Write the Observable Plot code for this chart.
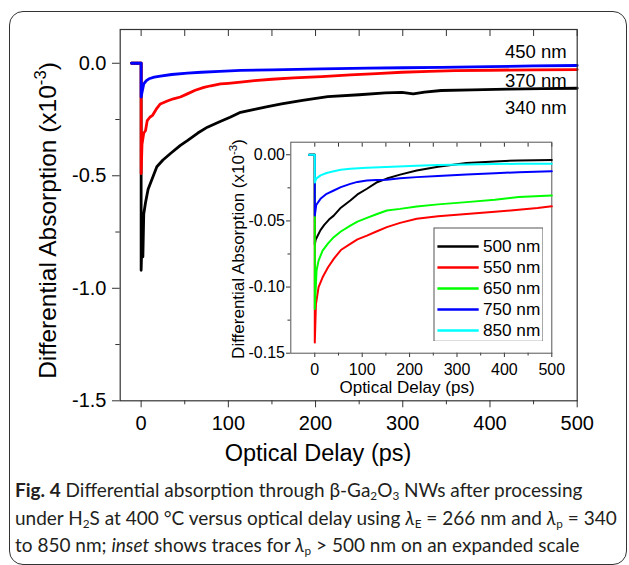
<!DOCTYPE html>
<html><head><meta charset="utf-8">
<script src="https://cdn.jsdelivr.net/npm/d3@7"></script>
<script src="https://cdn.jsdelivr.net/npm/@observablehq/plot@0.6"></script>
<style>
body{margin:0;background:#fff;}
#fig{position:relative;width:629px;height:565px;overflow:hidden;background:#fff;}
#border{position:absolute;left:8.5px;top:11px;width:618.5px;height:554px;border:1.5px solid #333;border-radius:14px;box-sizing:border-box;}
.abs{position:absolute;}
#caption{position:absolute;left:15px;top:476px;font-family:Lato,"Open Sans",sans-serif;font-size:19px;line-height:27.5px;color:#231f20;white-space:nowrap;}
#caption sub{font-size:0.62em;vertical-align:-0.25em;line-height:0;}
</style></head>
<body>
<div id="fig">
<div id="border"></div>
<div id="main" class="abs" style="left:0;top:0"></div>
<div id="inset" class="abs" style="left:190px;top:125px"></div>
<div id="legend" class="abs" style="left:433.3px;top:226.7px"></div>
<div id="caption">
<div><b>Fig. 4</b> Differential absorption through β-Ga<sub>2</sub>O<sub>3</sub> NWs after processing</div>
<div>under H<sub>2</sub>S at 400 °C versus optical delay using <i>λ</i><sub>E</sub> = 266 nm and <i>λ</i><sub>p</sub> = 340</div>
<div>to 850 nm; <i>inset</i> shows traces for <i>λ</i><sub>p</sub> &gt; 500 nm on an expanded scale</div>
</div>
</div>
<script>
// ---- main chart data ----
const t340 = [-11, 0, 0, 1, 2, 3, 5, 8, 11, 18, 25, 34, 45, 53, 65, 76, 90, 102, 114, 130, 145, 161, 185, 214, 250, 280, 299, 312, 325, 344, 380, 420, 460, 500];
const v340 = [0, 0, -0.92, -0.78, -0.86, -0.67, -0.62, -0.56, -0.53, -0.46, -0.43, -0.40, -0.365, -0.344, -0.31, -0.284, -0.26, -0.24, -0.218, -0.205, -0.193, -0.181, -0.165, -0.148, -0.14, -0.132, -0.129, -0.136, -0.128, -0.121, -0.118, -0.115, -0.113, -0.111];
const t370 = [-11, 0, 0, 1, 3, 5, 7, 10, 13, 18, 22, 30, 37, 45, 53, 62, 72, 80, 91, 100, 114, 130, 150, 175, 207, 240, 270, 299, 330, 360, 400, 450, 500];
const v370 = [0, 0, -0.49, -0.36, -0.31, -0.30, -0.255, -0.24, -0.232, -0.2, -0.181, -0.168, -0.158, -0.15, -0.136, -0.12, -0.107, -0.1, -0.092, -0.089, -0.084, -0.077, -0.071, -0.065, -0.059, -0.052, -0.046, -0.04, -0.036, -0.033, -0.031, -0.029, -0.028];
const t450 = [-11, 0, 0, 1, 3, 6, 9, 15, 22, 35, 53, 69, 90, 114, 150, 207, 260, 300, 344, 400, 450, 500];
const v450 = [0, 0, -0.15, -0.13, -0.092, -0.077, -0.069, -0.062, -0.057, -0.05, -0.044, -0.04, -0.036, -0.032, -0.029, -0.025, -0.022, -0.02, -0.018, -0.015, -0.012, -0.01];
const mainNames = ["340 nm", "370 nm", "450 nm"];
const mainColors = ["#000000", "#ff0000", "#0000ff"];
const mainXTicks = [0, 100, 200, 300, 400, 500];
const mainXMinor = [50, 150, 250, 350, 450];
const mainYTicks = [0, -0.5, -1.0, -1.5];
const mainYMinor = [-0.25, -0.75, -1.25];

// ---- inset data ----
const t500 = [-12, 0, 0, 2, 5, 12, 20, 30, 40, 55, 75, 90, 110, 130, 152, 180, 215, 260, 320, 380, 430, 500];
const v500 = [0, 0, -0.068, -0.064, -0.062, -0.057, -0.053, -0.049, -0.046, -0.040, -0.0346, -0.030, -0.0257, -0.021, -0.018, -0.015, -0.0119, -0.009, -0.0063, -0.005, -0.0043, -0.004];
const t550 = [-12, 0, 0, 2.4, 8, 16.5, 28, 40, 55, 75, 90, 110, 130, 152, 180, 215, 260, 320, 380, 430, 470, 500];
const v550 = [0, 0, -0.142, -0.113, -0.1, -0.0926, -0.085, -0.0787, -0.072, -0.0674, -0.064, -0.0611, -0.058, -0.0547, -0.0515, -0.0484, -0.0465, -0.0447, -0.043, -0.0416, -0.0403, -0.039];
const t650 = [-12, 0, 0, 3.7, 8, 16.5, 28, 40, 55, 75, 90, 110, 130, 152, 180, 215, 260, 320, 380, 430, 500];
const v650 = [0, 0, -0.1165, -0.0875, -0.08, -0.0724, -0.067, -0.0623, -0.058, -0.0535, -0.0505, -0.0477, -0.045, -0.0421, -0.0409, -0.0391, -0.0375, -0.0358, -0.034, -0.032, -0.0308];
const t750 = [-12, 0, 0, 3, 12, 25, 40, 55, 75, 90, 110, 130, 152, 180, 215, 260, 320, 380, 430, 500];
const v750 = [0, 0, -0.046, -0.038, -0.0333, -0.0295, -0.027, -0.0245, -0.022, -0.0205, -0.0194, -0.019, -0.0189, -0.0178, -0.0169, -0.016, -0.0149, -0.014, -0.0132, -0.0124];
const t850 = [-12, 0, 0, 3, 12, 25, 40, 55, 75, 110, 150, 215, 260, 320, 380, 430, 500];
const v850 = [0, 0, -0.021, -0.018, -0.0156, -0.0138, -0.0124, -0.0114, -0.0106, -0.0099, -0.0092, -0.0083, -0.0078, -0.0073, -0.007, -0.0068, -0.0068];
const insetNames = ["500 nm", "550 nm", "650 nm", "750 nm", "850 nm"];
const insetColors = ["#000000", "#ff0000", "#00ff00", "#0000ff", "#00ffff"];
const insetXTicks = [0, 100, 200, 300, 400, 500];
const insetXMinor = [50, 150, 250, 350, 450];
const insetYTicks = [0, -0.05, -0.10, -0.15];
const insetYMinor = [-0.025, -0.075, -0.125];

const FONT = "'Liberation Sans', Arial, sans-serif";
const zip = (ts, vs) => ts.map((t, i) => ({t, v: vs[i]}));

const mainSeries = [zip(t340, v340), zip(t370, v370), zip(t450, v450)];
const insetSeries = [zip(t500, v500), zip(t550, v550), zip(t650, v650), zip(t750, v750), zip(t850, v850)];

// label placement for main-chart line annotations (data space)
const mainLabelPos = [{x: 488, y: -0.201}, {x: 488, y: -0.077}, {x: 488, y: 0.049}];
const mainLabels = mainNames.map((n, i) => ({name: n, ...mainLabelPos[i]}));

const main = Plot.plot({
  width: 629, height: 470,
  marginLeft: 119.7, marginRight: 52.3, marginTop: 29, marginBottom: 69.7,
  x: {domain: [-24, 500]},
  y: {domain: [-1.5, 0.15]},
  style: {fontFamily: FONT, background: "transparent", color: "#000", overflow: "visible"},
  marks: [
    Plot.axisX({ticks: mainXTicks, tickSize: 7, tickPadding: 7.7, fontSize: 20, label: null, tickFormat: d => String(d), stroke: "#333"}),
    Plot.axisX({ticks: mainXMinor, tickSize: 4, tickFormat: () => "", label: null, stroke: "#333"}),
    Plot.axisX({anchor: "top", ticks: mainXTicks.concat(mainXMinor), tickSize: 6, dy: 6, tickFormat: () => "", label: null, stroke: "#333"}),
    Plot.axisY({ticks: mainYTicks, tickSize: 7.7, tickPadding: 6, fontSize: 20, tickFormat: d => d.toFixed(1), label: null, stroke: "#333"}),
    Plot.axisY({ticks: mainYMinor, tickSize: 4.4, tickFormat: () => "", label: null, stroke: "#333"}),
    ...mainSeries.map((s, i) => Plot.line(s, {x: "t", y: "v", stroke: mainColors[i], strokeWidth: 2.8})),
    Plot.frame({stroke: "#333", strokeWidth: 1.2}),
    Plot.text(mainLabels, {x: "x", y: "y", text: "name", textAnchor: "end", fontSize: 18.5, fill: "#000"})
  ]
});
document.getElementById("main").appendChild(main);

const inset = Plot.plot({
  width: 380, height: 280,
  marginLeft: 100.3, marginRight: 18.7, marginTop: 16.7, marginBottom: 52.3,
  x: {domain: [-50.6, 500]},
  y: {domain: [-0.15, 0.0095]},
  style: {fontFamily: FONT, background: "transparent", color: "#000", overflow: "visible"},
  marks: [
    Plot.frame({fill: "white", stroke: "none"}),
    Plot.axisX({ticks: insetXTicks, tickSize: 4.3, tickPadding: 6.3, fontSize: 16, label: null, tickFormat: d => String(d), stroke: "#333"}),
    Plot.axisX({ticks: insetXMinor, tickSize: 2.8, tickFormat: () => "", label: null, stroke: "#333"}),
    Plot.axisX({anchor: "top", ticks: insetXTicks.concat(insetXMinor), tickSize: 4, dy: 4, tickFormat: () => "", label: null, stroke: "#333"}),
    Plot.axisY({ticks: insetYTicks, tickSize: 4.3, tickPadding: 1.5, fontSize: 16, tickFormat: d => d.toFixed(2), label: null, stroke: "#333"}),
    Plot.axisY({ticks: insetYMinor, tickSize: 2.8, tickFormat: () => "", label: null, stroke: "#333"}),
    Plot.frame({stroke: "#555", strokeWidth: 1}),
    ...insetSeries.map((s, i) => Plot.line(s, {x: "t", y: "v", stroke: insetColors[i], strokeWidth: 2}))
  ]
});
document.getElementById("inset").appendChild(inset);

const legend = Plot.plot({
  width: 110, height: 114.3, margin: 0,
  x: {domain: [0, 1], range: [4.4, 45.7], axis: null},
  y: {type: "point", domain: insetNames, range: [18.3, 104.3], padding: 0, axis: null},
  color: {domain: insetNames, range: insetColors},
  style: {fontFamily: FONT, background: "transparent", color: "#000"},
  marks: [
    Plot.frame({fill: "white", stroke: "#555", inset: 0.5}),
    Plot.ruleY(insetNames, {y: d => d, x1: 0, x2: 1, stroke: d => d, strokeWidth: 2.4}),
    Plot.text(insetNames, {y: d => d, x: 1, dx: 3.7, text: d => d, textAnchor: "start", fontSize: 17.2, fill: "#000"})
  ]
});
document.getElementById("legend").appendChild(legend);

// axis titles
function title(svg, x, y, size, rotate, text, sup) {
  const t = d3.select(svg).append("text")
    .attr("transform", `translate(${x},${y})` + (rotate ? " rotate(-90)" : ""))
    .attr("text-anchor", "middle").attr("dy", "0.36em")
    .attr("font-family", FONT).attr("font-size", size).attr("fill", "#000");
  t.append("tspan").text(text);
  if (sup) {
    t.append("tspan").attr("dy", "-0.6em").attr("font-size", "0.68em").text(sup);
    t.append("tspan").attr("dy", "0.41em").text(")");
  }
}
title(main, 318, 453, 23.5, false, "Optical Delay (ps)");
title(main, 47, 220.5, 24.5, true, "Differential Absorption (x10", "-3");
title(inset, 217, 262, 17, false, "Optical Delay (ps)");
title(inset, 48, 124, 17, true, "Differential Absorption (x10", "-3");
</script>
</body></html>
